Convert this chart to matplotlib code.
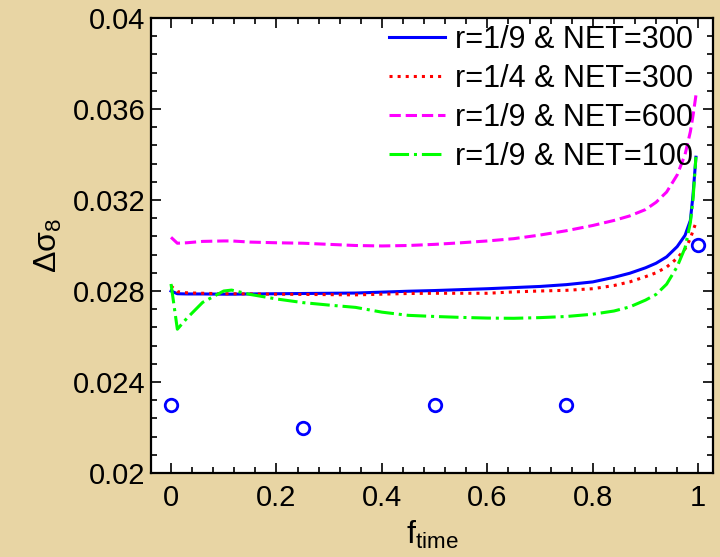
import numpy as np
import matplotlib
matplotlib.use('Agg')
import matplotlib.pyplot as plt
from matplotlib.ticker import MultipleLocator

plt.rcParams['font.family'] = ['Liberation Sans', 'DejaVu Sans']
plt.rcParams['mathtext.fontset'] = 'custom'
plt.rcParams['mathtext.rm'] = 'Liberation Sans'
plt.rcParams['mathtext.it'] = 'Liberation Sans'

# f_time grid of the curves (denser close to 1)
f_time = [0.0, 0.012, 0.03, 0.06, 0.1, 0.115, 0.15, 0.2, 0.25, 0.3, 0.35, 0.4, 0.45,
          0.5, 0.55, 0.6, 0.65, 0.7, 0.75, 0.8, 0.84, 0.87, 0.9, 0.92, 0.94,
          0.96, 0.975, 0.985, 0.99, 0.9956]

# r=1/9, NET=300
blue = [0.02800, 0.02788, 0.02787, 0.02787, 0.02786, 0.02786, 0.02787, 0.02788, 0.02789, 0.02790,
        0.02791, 0.02795, 0.02799, 0.02802, 0.02806, 0.02810, 0.02815, 0.02820, 0.02828, 0.02840,
        0.02860, 0.02878, 0.02902, 0.02922, 0.02950, 0.02995, 0.03045, 0.03110, 0.03220, 0.03388]
# r=1/4, NET=300
red = [0.02822, 0.02797, 0.02792, 0.02790, 0.02788, 0.02788, 0.02787, 0.02786, 0.02785, 0.02784,
       0.02783, 0.02786, 0.02789, 0.02790, 0.02790, 0.02790, 0.02796, 0.02800, 0.02803, 0.02810,
       0.02824, 0.02840, 0.02863, 0.02880, 0.02905, 0.02944, 0.02985, 0.03030, 0.03065, 0.03100]
# r=1/9, NET=600
magenta = [0.03036, 0.03010, 0.03012, 0.03018, 0.03020, 0.03020, 0.03015, 0.03012, 0.03010, 0.03005,
           0.03000, 0.02998, 0.03000, 0.03005, 0.03012, 0.03020, 0.03030, 0.03046, 0.03065, 0.03088,
           0.03110, 0.03130, 0.03158, 0.03190, 0.03235, 0.03310, 0.03400, 0.03500, 0.03570, 0.03660]
# r=1/9, NET=100
green = [0.02831, 0.02632, 0.02680, 0.02750, 0.02800, 0.02804, 0.02785, 0.02765, 0.02749, 0.02738,
         0.02728, 0.02707, 0.02693, 0.02688, 0.02684, 0.02681, 0.02680, 0.02683, 0.02688, 0.02698,
         0.02712, 0.02730, 0.02760, 0.02785, 0.02830, 0.02907, 0.02990, 0.03100, 0.03200, 0.03390]

# single estimates shown as circles
pts_x = [0.0, 0.25, 0.5, 0.75, 1.0]
pts_y = [0.023, 0.022, 0.023, 0.023, 0.030]

labels = ['r=1/9 & NET=300', 'r=1/4 & NET=300', 'r=1/9 & NET=600', 'r=1/9 & NET=100']

fig = plt.figure(figsize=(7.2, 5.57), dpi=100, facecolor='#E8D5A4')
ax = fig.add_axes([0.2097, 0.1508, 0.7806, 0.8169])
ax.set_facecolor('white')

ax.plot(f_time, blue, color='#0000FF', lw=2.2, ls='-', label=labels[0])
ax.plot(f_time, red, color='#FF0000', lw=2.2, ls=':', label=labels[1])
ax.plot(f_time, magenta, color='#FF00FF', lw=2.2, ls='--', label=labels[2])
ax.plot(f_time, green, color='#00FF00', lw=2.2, ls='-.', label=labels[3])
ax.plot(pts_x, pts_y, 'o', mfc='none', mec='#0000FF', mew=2, ms=9)

ax.set_xlim(-0.038, 1.028)
ax.set_ylim(0.02, 0.04)
ax.xaxis.set_minor_locator(MultipleLocator(0.04))
ax.yaxis.set_minor_locator(MultipleLocator(0.0008))
ax.set_xticks([0, 0.2, 0.4, 0.6, 0.8, 1.0])
ax.set_xticklabels(['0', '0.2', '0.4', '0.6', '0.8', '1'])
ax.set_yticks([0.02, 0.024, 0.028, 0.032, 0.036, 0.04])
ax.set_yticklabels(['0.02', '0.024', '0.028', '0.032', '0.036', '0.04'])

ax.tick_params(which='both', direction='in', top=True, right=True, width=1.2, labelsize=21)
ax.tick_params(which='major', length=7)
ax.tick_params(which='minor', length=4)
ax.tick_params(axis='x', pad=8)
ax.tick_params(axis='y', pad=4)
for s in ax.spines.values():
    s.set_linewidth(1.6)

ax.set_xlabel(r'$\mathregular{f_{time}}$', fontsize=23, labelpad=5)
ax.set_ylabel(r'$\mathregular{\Delta\sigma_8}$', fontsize=23, labelpad=6)

ax.legend(loc='upper right', bbox_to_anchor=(0.962, 0.956), bbox_transform=fig.transFigure,
          frameon=False, fontsize=22, handlelength=1.85, handletextpad=0.3,
          labelspacing=0.3, borderpad=0, borderaxespad=0)

fig.savefig('out.png', dpi=100, facecolor=fig.get_facecolor())
